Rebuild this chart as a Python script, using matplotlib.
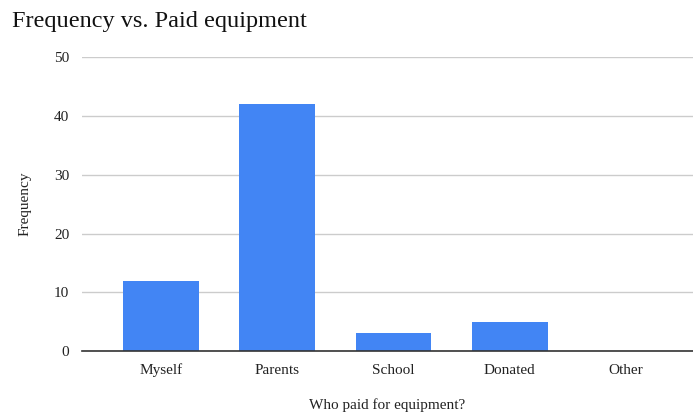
import matplotlib

matplotlib.use("Agg")
import matplotlib.pyplot as plt

categories = ["Myself", "Parents", "School", "Donated", "Other"]
frequency = [12, 42, 3, 5, 0]
y_ticks = [0, 10, 20, 30, 40, 50]

plt.rcParams["font.family"] = ["Liberation Serif", "DejaVu Serif"]

fig = plt.figure(figsize=(6.93, 4.17), dpi=100)
ax = fig.add_axes([0.118, 0.158, 0.882, 0.705])

positions = list(range(len(categories)))
ax.bar(positions, frequency, width=0.65, color="#4285F4", zorder=3)

ax.set_xlim(-0.68, 4.575)
ax.set_ylim(0, 50)
ax.set_yticks(y_ticks)
ax.set_xticks(positions)
ax.set_xticklabels(categories)
ax.tick_params(axis="both", length=0, labelsize=11, colors="#222222")
ax.tick_params(axis="x", pad=9)
ax.tick_params(axis="y", pad=9)

ax.grid(axis="y", color="#cccccc", linewidth=1, zorder=0)
for side in ["top", "right", "left"]:
    ax.spines[side].set_visible(False)
ax.spines["bottom"].set_color("#333333")
ax.spines["bottom"].set_linewidth(1.2)
ax.spines["bottom"].set_zorder(4)

ax.set_xlabel("Who paid for equipment?", fontsize=11, labelpad=15, color="#222222")
ax.set_ylabel("Frequency", fontsize=11, labelpad=16, color="#222222")
fig.text(0.017, 0.948, "Frequency vs. Paid equipment", fontsize=17.5, va="center", ha="left", color="#111111")

fig.savefig("out.png", dpi=100)
